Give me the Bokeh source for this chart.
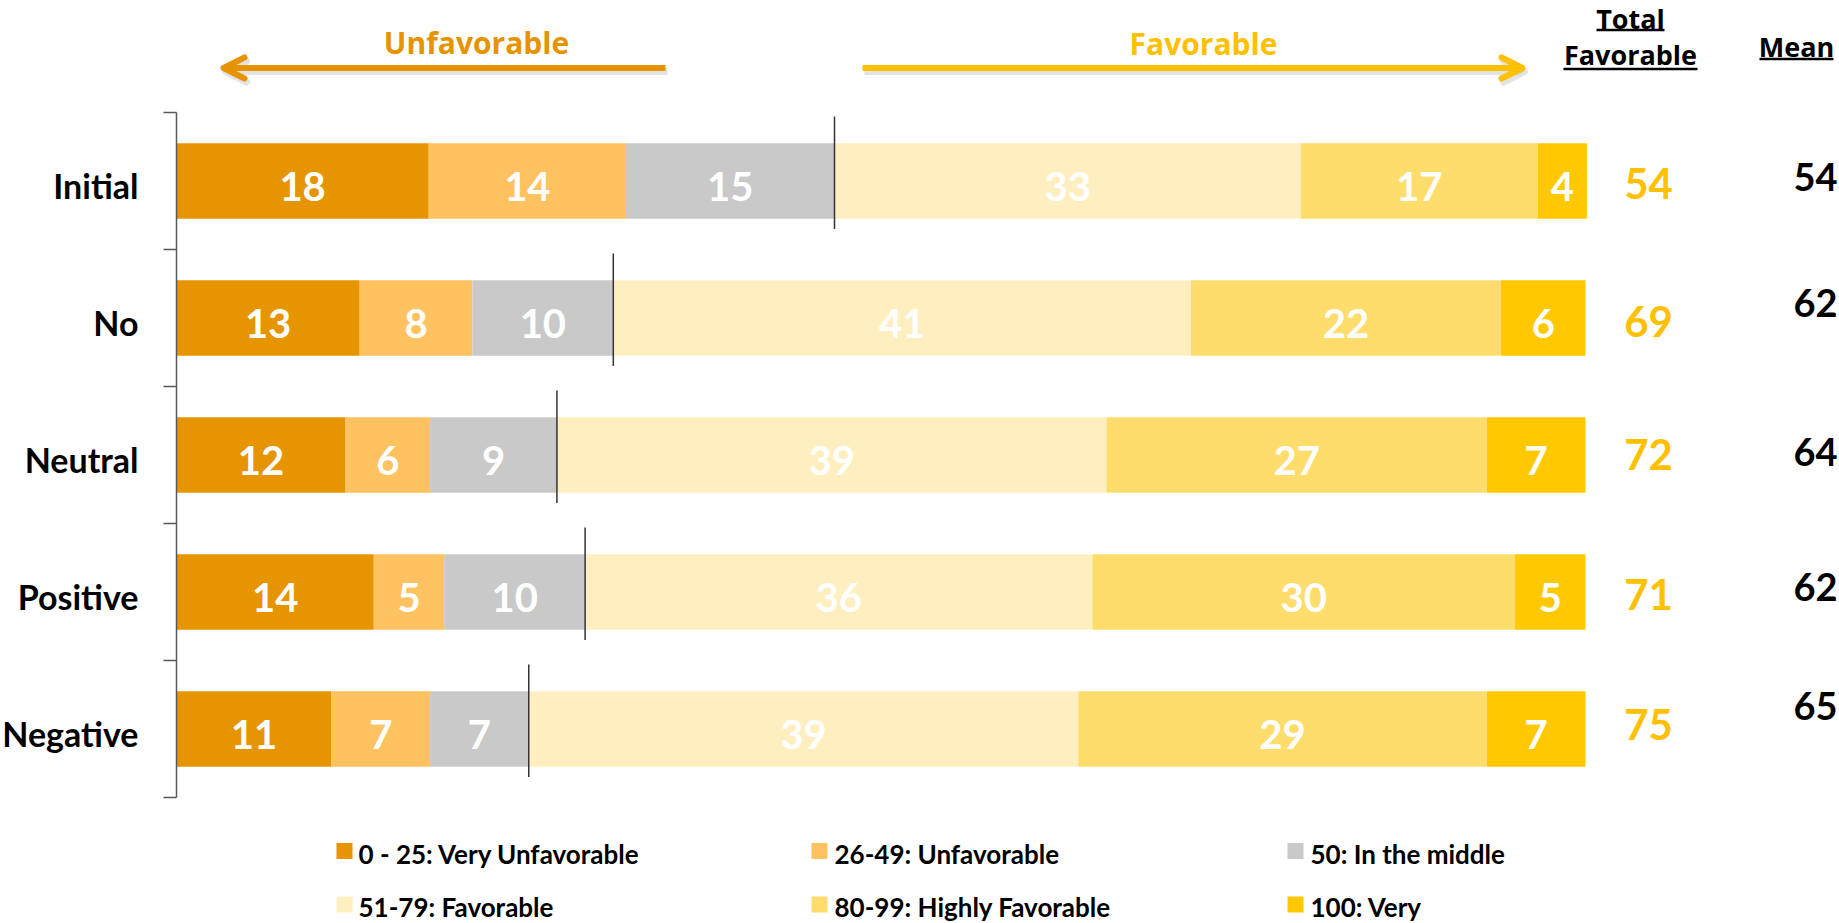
from bokeh.plotting import figure
from bokeh.models import ColumnDataSource, Range1d, Arrow, OpenHead
from bokeh.core.properties import value
from bokeh.embed import file_html
from bokeh.resources import INLINE

# ---------------- data ----------------
categories = ["Initial", "No", "Neutral", "Positive", "Negative"]
very_unfavorable = [17.9, 13, 12, 14, 11]
unfavorable = [14.0, 8, 6, 5, 7]
in_the_middle = [14.8, 10, 9, 10, 7]
favorable = [33.1, 41, 39, 36, 39]
highly_favorable = [16.8, 22, 27, 30, 29]
very_favorable = [3.5, 6, 7, 5, 7]
total_favorable = [54, 69, 72, 71, 75]
mean_score = [54, 62, 64, 62, 65]
series_names = ["0 - 25: Very Unfavorable", "26-49: Unfavorable", "50: In the middle",
                "51-79: Favorable", "80-99: Highly Favorable", "100: Very"]

# ---------------- style / layout ----------------
series_colors = ["#E69500", "#FFC261", "#C9C9C9", "#FFEFC0", "#FFDD6D", "#FFC800"]
UNFAV_COLOR = "#E59400"
FAV_COLOR = "#FFC000"
TOTAL_COLOR = "#FFC000"

W, H = 1839, 923
PX_PER_UNIT = 14.09     # horizontal pixels per percentage point
ROW_PX = 137            # vertical pixels per category row
X0_PAGE = 176           # page x of the value 0
Y0_PAGE = 180.5         # page y of the first row centre
BASE_K = 0.33           # empirical correction for the alphabetic baseline of the SVG text


def dx(page_x):
    return (page_x - X0_PAGE) / PX_PER_UNIT


def dy(page_y):
    return (page_y - Y0_PAGE) / ROW_PX


def base(page_y, size):
    """data y for a text whose baseline should sit at page_y"""
    return dy(page_y - BASE_K * size)


def off(px, size):
    return px - BASE_K * size


# per-row baseline offsets of the right-hand columns (pixels below row centre)
total_baseline_px = [16, 17, 13, 16, 9]
mean_baseline_px = [9, -2, 10, 8, -10]

p = figure(width=W, height=H,
           x_range=Range1d(dx(0), dx(W)),
           y_range=Range1d(dy(H), dy(0)),
           x_axis_type=None, y_axis_type=None,
           output_backend="svg", toolbar_location=None,
           min_border=0, outline_line_color=None)
p.background_fill_color = "white"
p.border_fill_color = "white"

n = len(categories)
ys = list(range(n))
series = [very_unfavorable, unfavorable, in_the_middle, favorable, highly_favorable, very_favorable]
keys = ["s%d" % i for i in range(len(series))]

data = dict(y=ys, cat=categories)
for k, vals in zip(keys, series):
    data[k] = vals
src = ColumnDataSource(data)

p.hbar_stack(keys, y="y", height=0.55, color=series_colors, line_color=None, source=src)

# segment value labels
lx, ly, lt = [], [], []
for i in range(n):
    left = 0.0
    for s in series:
        v = s[i]
        lx.append(left + v / 2.0)
        ly.append(i)
        lt.append("%.0f" % v)
        left += v
p.text(x=lx, y=ly, text=lt, text_color="white", text_font=value("Lato"),
       text_font_style="bold", text_font_size="40px", text_align="center",
       text_baseline="alphabetic", y_offset=off(19, 40))

# divider between unfavorable/middle and favorable
div_x = [very_unfavorable[i] + unfavorable[i] + in_the_middle[i] for i in range(n)]
p.segment(x0=div_x, y0=[i - 0.47 for i in ys], x1=div_x, y1=[i + 0.35 for i in ys],
          line_color="#333333", line_width=1.5)

# category axis (line + boundary ticks)
p.segment(x0=[0], y0=[-0.5], x1=[0], y1=[n - 0.5], line_color="#595959", line_width=1.5)
tick_y = [i - 0.5 for i in range(n + 1)]
p.segment(x0=[dx(163)] * (n + 1), y0=tick_y, x1=[0] * (n + 1), y1=tick_y,
          line_color="#595959", line_width=1.5)

p.text(x=[0] * n, y=ys, text=categories, x_offset=-38, y_offset=off(16, 34),
       text_color="black", text_font=value("Lato"), text_font_style="bold",
       text_font_size="34px", text_align="right", text_baseline="alphabetic")

# total favorable and mean columns
rsrc = ColumnDataSource(dict(
    y=ys,
    tot=[str(v) for v in total_favorable],
    mean=[str(v) for v in mean_score],
    tdy=[off(v, 42) for v in total_baseline_px],
    mdy=[off(v, 38) for v in mean_baseline_px],
    tx=[dx(1648)] * n,
    mx=[dx(1815)] * n,
))
p.text(x="tx", y="y", text="tot", y_offset="tdy", source=rsrc, text_color=TOTAL_COLOR,
       text_font=value("Lato"), text_font_style="bold", text_font_size="42px",
       text_align="center", text_baseline="alphabetic")
p.text(x="mx", y="y", text="mean", y_offset="mdy", source=rsrc, text_color="black",
       text_font=value("Lato"), text_font_style="bold", text_font_size="38px",
       text_align="center", text_baseline="alphabetic")

# headers
p.text(x=[dx(1630), dx(1630), dx(1796)], y=[base(27, 27), base(63, 27), base(55, 27)],
       text=["Total", "Favorable", "Mean"], text_color="black",
       text_font=value("Open Sans"), text_font_style="bold", text_font_size="27px",
       text_align="center", text_baseline="alphabetic")
p.segment(x0=[dx(1596), dx(1563), dx(1759)], y0=[dy(29.5), dy(68.5), dy(58.5)],
          x1=[dx(1664), dx(1697), dx(1833)], y1=[dy(29.5), dy(68.5), dy(58.5)],
          line_color="black", line_width=2.3)

# direction arrows
y_arrow = dy(67.5)
y_shadow = dy(71)
for (xs, xe, col) in [(665, 223, UNFAV_COLOR), (862, 1522, FAV_COLOR)]:
    p.add_layout(Arrow(end=OpenHead(size=21, line_width=7, line_color="#7f7f7f", line_alpha=0.22,
                                    line_cap="round", line_join="round"),
                       x_start=dx(xs + 2), y_start=y_shadow, x_end=dx(xe + 2), y_end=y_shadow,
                       line_width=7, line_color="#7f7f7f", line_alpha=0.22))
    p.add_layout(Arrow(end=OpenHead(size=21, line_width=6, line_color=col,
                                    line_cap="round", line_join="round"),
                       x_start=dx(xs), y_start=y_arrow, x_end=dx(xe), y_end=y_arrow,
                       line_width=6, line_color=col))
p.text(x=[dx(476)], y=[base(52, 30)], text=["Unfavorable"], text_color=UNFAV_COLOR,
       text_font=value("Open Sans"), text_font_style="bold", text_font_size="30px",
       text_align="center", text_baseline="alphabetic")
p.text(x=[dx(1203)], y=[base(53, 30)], text=["Favorable"], text_color=FAV_COLOR,
       text_font=value("Open Sans"), text_font_style="bold", text_font_size="30px",
       text_align="center", text_baseline="alphabetic")

# legend (3 columns x 2 rows)
col_sq = [344, 819, 1295]
col_tx = [358, 834, 1310]
row_sq = [850.5, 904]
row_tx = [862, 915]
sq_x = [dx(col_sq[k % 3]) for k in range(len(series_names))]
sq_y = [dy(row_sq[k // 3]) for k in range(len(series_names))]
tx_x = [dx(col_tx[k % 3]) for k in range(len(series_names))]
tx_y = [base(row_tx[k // 3], 26) for k in range(len(series_names))]
p.rect(x=sq_x, y=sq_y, width=16, height=16, width_units="screen", height_units="screen",
       fill_color=series_colors, line_color=None)
p.text(x=tx_x, y=tx_y, text=series_names, text_color="black", text_font=value("Lato"),
       text_font_style="bold", text_font_size="26px", text_align="left",
       text_baseline="alphabetic")

open("out.html", "w").write(file_html(p, INLINE))
